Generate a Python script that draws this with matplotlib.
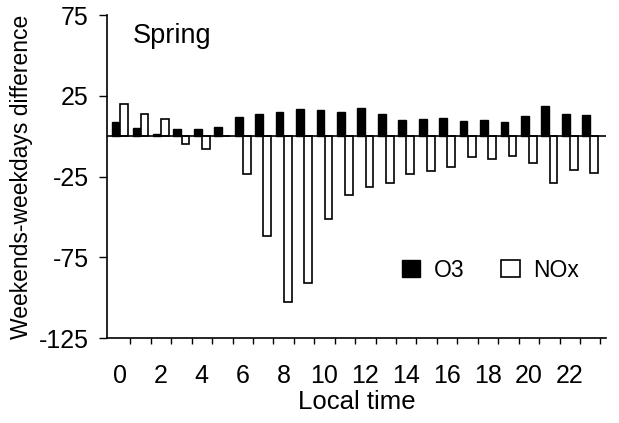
import matplotlib.pyplot as plt
import numpy as np

hours = list(range(24))
o3 = [8.7, 5, 1.5, 4.3, 4.5, 5.4, 12, 13.4, 15, 17, 16, 14.9,
      17.5, 13.4, 9.7, 10.7, 11.1, 9.1, 10.1, 8.7, 12.4, 18.6, 14, 12.8]
nox = [20, 13.6, 10.3, -5, -7.9, 0, -23.7, -62, -103, -90.8, -51.6, -36.2,
       -31.8, -28.9, -23.5, -21.9, -19, -13.2, -14.2, -12.4, -16.9, -28.9, -21, -23.1]
xticks = list(range(0, 24, 2))
yticks = [75, 25, -25, -75, -125]

plt.rcParams['font.family'] = ['Liberation Sans', 'DejaVu Sans']

fig = plt.figure(figsize=(6.19, 4.23), dpi=100)
ax = fig.add_axes([107 / 619, 1 - 338 / 423, (606 - 107) / 619, (338 - 15) / 423])

x = np.array(hours)
w = 0.38
ax.bar(x - 0.2, o3, width=w, color='black', edgecolor='black', linewidth=1, label='O3')
ax.bar(x + 0.2, nox, width=w, color='white', edgecolor='black', linewidth=1.2, label='NOx')
ax.axhline(0, color='black', linewidth=1.2)

ax.set_xlim(-0.64, 23.77)
ax.set_ylim(-125, 75)
ax.set_yticks(yticks)
ax.set_yticklabels([str(v) for v in yticks])
ax.set_xticks(xticks)
ax.set_xticks(np.arange(0.5, 24, 1), minor=True)
ax.tick_params(axis='x', which='major', length=0, pad=19, labelsize=18)
ax.tick_params(axis='x', which='minor', length=4, width=1)
ax.tick_params(axis='y', length=6, width=1, labelsize=18, pad=7)

for s in ['top', 'right']:
    ax.spines[s].set_visible(False)
for s in ['left', 'bottom']:
    ax.spines[s].set_linewidth(1.2)

ax.set_xlabel('Local time', fontsize=18.5, labelpad=1)
ax.set_ylabel('Weekends-weekdays difference', fontsize=16.5, labelpad=4)

ax.text(0.6, 62, 'Spring', fontsize=19.5, ha='left', va='center')

ax.legend(loc='center left', bbox_to_anchor=(0.55, 0.21), ncol=2, frameon=False,
          fontsize=16.5, handlelength=0.8, handleheight=0.8, handletextpad=0.6,
          columnspacing=1.6)

fig.savefig('out.png', dpi=100)
